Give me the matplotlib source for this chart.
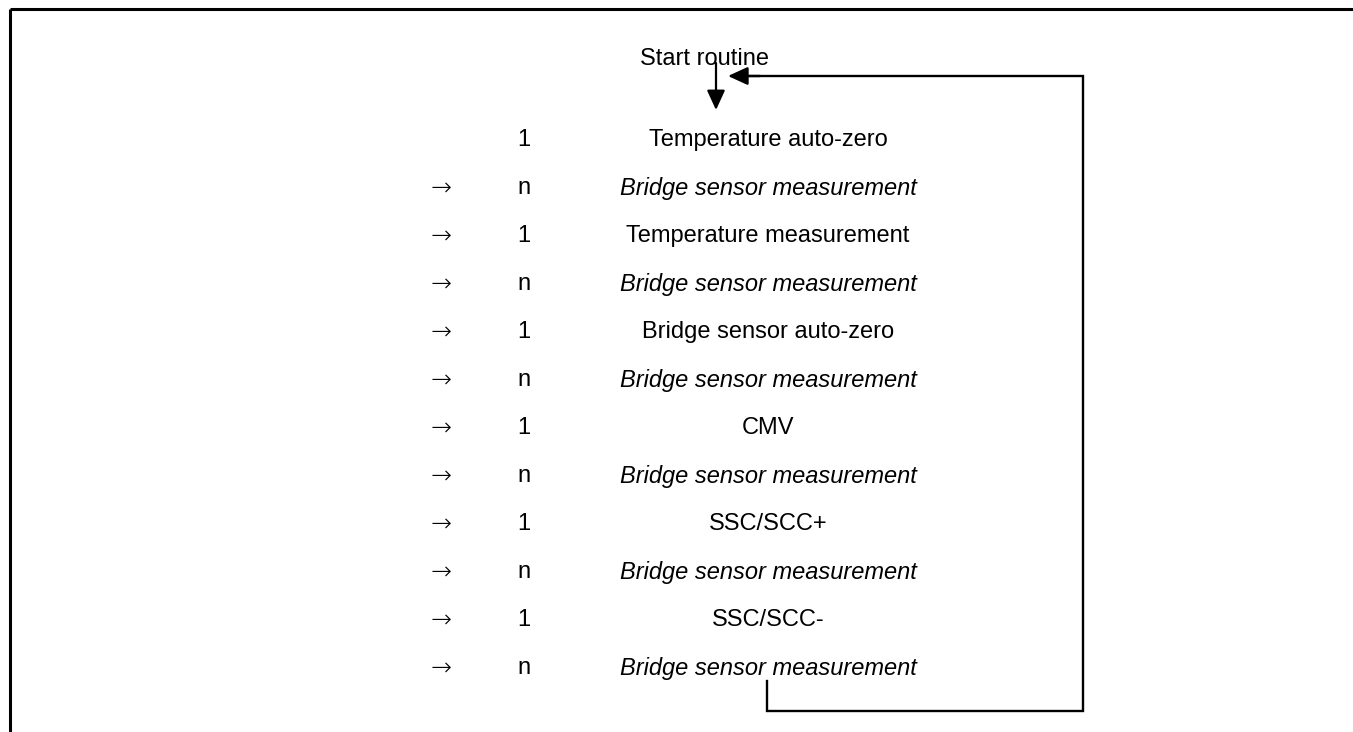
import matplotlib
matplotlib.use("Agg")
import matplotlib.pyplot as plt

plt.rcParams['font.family'] = ['Liberation Sans', 'DejaVu Sans']

# Data
start_label = "Start routine"
multipliers = ["1", "n", "1", "n", "1", "n", "1", "n", "1", "n", "1", "n"]
steps = ["Temperature auto-zero", "Bridge sensor measurement", "Temperature measurement",
         "Bridge sensor measurement", "Bridge sensor auto-zero", "Bridge sensor measurement",
         "CMV", "Bridge sensor measurement", "SSC/SCC+", "Bridge sensor measurement",
         "SSC/SCC-", "Bridge sensor measurement"]
has_arrow = [False] + [True] * 11
italic = [s == "Bridge sensor measurement" for s in steps]

W, H = 1353, 732
fig = plt.figure(figsize=(W / 100, H / 100), dpi=100)
ax = fig.add_axes([0, 0, 1, 1])
ax.set_xlim(0, W)
ax.set_ylim(H, 0)
ax.axis('off')

# frame lines (top and left)
ax.plot([10, W + 5], [8.5, 8.5], color='black', lw=2.2, solid_capstyle='butt')
ax.plot([10, 10], [8.5, H + 5], color='black', lw=2.2, solid_capstyle='butt')

fs = 17
x_arrow, x_mult, x_label = 441, 524, 768
y0, dy = 140, 48

ax.text(704, 59, start_label, ha='center', va='center', fontsize=fs)

for i, (m, s) in enumerate(zip(multipliers, steps)):
    y = y0 + i * dy
    if has_arrow[i]:
        ax.text(x_arrow, y + 1, "\u2192", ha='center', va='center', fontsize=fs + 1,
                family=['DejaVu Sans'], fontweight='light')
    ax.text(x_mult, y, m, ha='center', va='center', fontsize=fs)
    ax.text(x_label, y, s, ha='center', va='center', fontsize=fs,
            style='italic' if italic[i] else 'normal')

# start down arrow
ax.annotate("", xy=(716, 110), xytext=(716, 63),
            arrowprops=dict(arrowstyle='-|>,head_length=1.2,head_width=0.55',
                            color='black', lw=1.6, shrinkA=0, shrinkB=0))

# return loop
ax.plot([767, 767, 1083, 1083, 745], [681, 711, 711, 76, 76], color='black', lw=1.7,
        solid_joinstyle='miter')
ax.annotate("", xy=(728, 76), xytext=(760, 76),
            arrowprops=dict(arrowstyle='-|>,head_length=1.2,head_width=0.55',
                            color='black', lw=1.7, shrinkA=0, shrinkB=0))

fig.savefig("out.png", dpi=100)
